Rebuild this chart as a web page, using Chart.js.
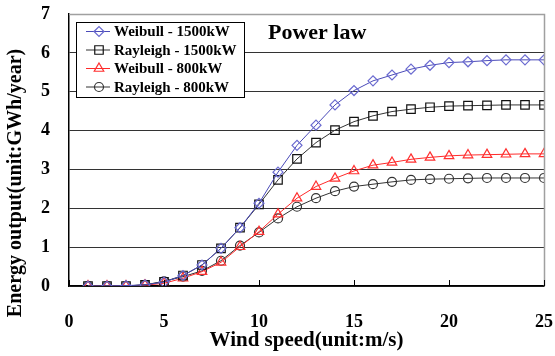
<!DOCTYPE html>
<html>
<head>
<meta charset="utf-8">
<script src="https://cdn.jsdelivr.net/npm/chart.js@4"></script>
<style>
    html, body { margin: 0; padding: 0; background: #fff; }
    #wrap { width: 555px; height: 356px; position: relative; }
</style>
</head>
<body>
<div id="wrap"><canvas id="powerChart"></canvas></div>
<script>
// Wind speed categories (m/s)
const windSpeed = [1, 2, 3, 4, 5, 6, 7, 8, 9, 10, 11, 12, 13, 14, 15, 16, 17, 18, 19, 20, 21, 22, 23, 24, 25];

// Energy output series (GWh/year)
const weibull1500 = [0, 0, 0.01, 0.03, 0.1, 0.27, 0.54, 0.97, 1.5, 2.13, 2.93, 3.62, 4.14, 4.66, 5.03, 5.28, 5.43, 5.58, 5.68, 5.75, 5.77, 5.8, 5.82, 5.82, 5.82];
const rayleigh1500 = [0, 0, 0, 0.03, 0.11, 0.27, 0.54, 0.97, 1.5, 2.1, 2.73, 3.27, 3.69, 4.01, 4.23, 4.38, 4.49, 4.55, 4.6, 4.63, 4.64, 4.65, 4.66, 4.66, 4.66];
const weibull800 = [0, 0, 0, 0.02, 0.07, 0.2, 0.37, 0.61, 1.01, 1.4, 1.85, 2.26, 2.56, 2.77, 2.96, 3.11, 3.18, 3.26, 3.31, 3.35, 3.37, 3.38, 3.39, 3.4, 3.4];
const rayleigh800 = [0, 0, 0, 0.03, 0.12, 0.24, 0.39, 0.65, 1.04, 1.38, 1.74, 2.04, 2.26, 2.44, 2.56, 2.62, 2.68, 2.73, 2.75, 2.76, 2.77, 2.78, 2.78, 2.78, 2.78];

const seriesLabels = ['Weibull - 1500kW', 'Rayleigh - 1500kW', 'Weibull - 800kW', 'Rayleigh - 800kW'];

// Axis ticks
const xTicks = [0, 5, 10, 15, 20, 25];
const yTicks = [0, 1, 2, 3, 4, 5, 6, 7];

const chartTitle = 'Power law';
const xTitle = 'Wind speed(unit:m/s)';
const yTitle = 'Energy output(unit:GWh/year)';

const serif = '"Liberation Serif", "DejaVu Serif", serif';

function toPoints(values) {
    return windSpeed.map((x, i) => ({ x: x, y: values[i] }));
}

function makeSeries(label, values, color, markColor, style, radius) {
    return {
        label: label,
        data: toPoints(values),
        borderColor: color,
        borderWidth: 1,
        pointStyle: style,
        pointRadius: radius,
        pointBorderColor: markColor,
        pointBackgroundColor: 'rgba(0,0,0,0)',
        pointBorderWidth: 1.2,
        tension: 0
    };
}

// Extra drawing: frame, inward ticks, title, y title and boxed legend
const decorPlugin = {
    id: 'decor',
    afterDraw(chart) {
        const ctx = chart.ctx;
        const area = chart.chartArea;
        const xs = chart.scales.x;

        ctx.save();
        // gray frame on top and right
        ctx.strokeStyle = '#a0a0a0';
        ctx.lineWidth = 1.5;
        ctx.beginPath();
        ctx.moveTo(area.left, area.top + 0.5);
        ctx.lineTo(area.right + 0.5, area.top + 0.5);
        ctx.lineTo(area.right + 0.5, area.bottom);
        ctx.stroke();

        // inward tick marks on the x axis
        ctx.strokeStyle = '#000';
        ctx.lineWidth = 1;
        xTicks.forEach(v => {
            const px = Math.round(xs.getPixelForValue(v)) + 0.5;
            ctx.beginPath();
            ctx.moveTo(px, area.bottom);
            ctx.lineTo(px, area.bottom - 6);
            ctx.stroke();
        });

        // title inside the plot
        ctx.fillStyle = '#000';
        ctx.font = 'bold 22px ' + serif;
        ctx.textBaseline = 'middle';
        ctx.textAlign = 'left';
        ctx.fillText(chartTitle, 268, 33);

        // y axis title
        ctx.save();
        ctx.translate(16, 183);
        ctx.rotate(-Math.PI / 2);
        ctx.textAlign = 'center';
        ctx.font = 'bold 20px ' + serif;
        ctx.fillText(yTitle, 0, 0);
        ctx.restore();

        // legend box
        const lx = 76, ly = 22, lw = 168, lh = 75;
        ctx.fillStyle = '#fff';
        ctx.fillRect(lx, ly, lw, lh);
        ctx.strokeStyle = '#000';
        ctx.lineWidth = 1;
        ctx.strokeRect(lx + 0.5, ly + 0.5, lw, lh);
        const rows = [31.5, 50, 68.5, 87];
        chart.data.datasets.forEach((ds, i) => {
            const y = rows[i];
            ctx.strokeStyle = ds.borderColor;
            ctx.lineWidth = 1;
            ctx.beginPath();
            ctx.moveTo(86, y);
            ctx.lineTo(110, y);
            ctx.stroke();
            ctx.strokeStyle = ds.pointBorderColor;
            ctx.fillStyle = 'rgba(0,0,0,0)';
            ctx.lineWidth = 1.2;
            Chart.helpers.drawPoint(ctx, {
                pointStyle: ds.pointStyle,
                radius: ds.pointRadius,
                borderWidth: 1.2,
                rotation: 0
            }, 99, y);
            ctx.fillStyle = '#000';
            ctx.font = 'bold 15px ' + serif;
            ctx.textAlign = 'left';
            ctx.fillText(ds.label, 114, y + 1);
        });
        ctx.restore();
    }
};

Chart.register(decorPlugin);

const ctx = document.getElementById('powerChart').getContext('2d');
const powerChart = new Chart(ctx, {
    type: 'line',
    data: {
        datasets: [
            makeSeries(seriesLabels[0], weibull1500, '#4a4ab8', '#6a6ad0', 'rectRot', 5),
            makeSeries(seriesLabels[1], rayleigh1500, '#333', '#111', 'rect', 6),
            makeSeries(seriesLabels[2], weibull800, '#ff2a2a', '#ff3030', 'triangle', 5.5),
            makeSeries(seriesLabels[3], rayleigh800, '#333', '#333', 'circle', 4.5)
        ]
    },
    options: {
        responsive: true,
        maintainAspectRatio: false,
        animation: false,
        layout: {
            padding: { top: 14, right: 11, left: 0, bottom: 3 }
        },
        plugins: {
            legend: { display: false },
            tooltip: { enabled: false }
        },
        scales: {
            x: {
                type: 'linear',
                min: 0,
                max: 25,
                afterBuildTicks: scale => {
                    scale.ticks = xTicks.map(v => ({ value: v }));
                },
                afterFit: scale => {
                    scale.height = 67;
                    scale.paddingLeft = 0;
                    scale.paddingRight = 0;
                },
                grid: { display: false, drawTicks: false },
                border: { display: true, color: '#000', width: 1.5 },
                ticks: {
                    padding: 26,
                    color: '#000',
                    font: { family: serif, size: 18, weight: 'bold' }
                },
                title: {
                    display: true,
                    text: xTitle,
                    color: '#000',
                    padding: { top: 0, bottom: 0 },
                    font: { family: serif, size: 21, weight: 'bold' }
                }
            },
            y: {
                min: 0,
                max: 7,
                afterBuildTicks: scale => {
                    scale.ticks = yTicks.map(v => ({ value: v }));
                },
                afterFit: scale => {
                    scale.width = 69;
                    scale.paddingTop = 0;
                    scale.paddingBottom = 0;
                },
                grid: {
                    drawTicks: false,
                    color: c => (c.tick && c.tick.value === 7) ? '#a0a0a0' : '#333',
                    lineWidth: 1
                },
                border: { display: true, color: '#000', width: 1.5 },
                ticks: {
                    padding: 19,
                    color: '#000',
                    font: { family: serif, size: 18, weight: 'bold' }
                }
            }
        }
    }
});
</script>
</body>
</html>
